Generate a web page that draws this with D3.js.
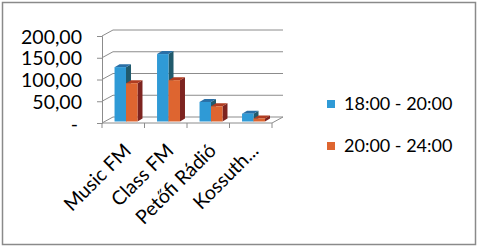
<!DOCTYPE html>
<html lang="hu">
  <head>
    <meta charset="UTF-8" />
    <title>Rádió hallgatottság</title>
    <style>
      body { margin: 0; background: #fff; }
      text { font-family: Lato, "Open Sans", sans-serif; fill: #000; }
    </style>
  </head>
  <body>
    <div class="chart"></div>
    <script src="https://d3js.org/d3.v7.min.js"></script>
    <script>
      // data
      const categories = ['Music FM', 'Class FM', 'Petőfi Rádió', 'Kossuth...'];
      const seriesNames = ['18:00 - 20:00', '20:00 - 24:00'];
      const evening = [125, 155, 45, 18];
      const night = [88, 95, 35, 7];
      const yTicks = [0, 50, 100, 150, 200];
      const yTickLabels = ['-', '50,00', '100,00', '150,00', '200,00'];

      const svgWidth = 478,
        svgHeight = 246;

      // front plane of the plot and the depth offset of the back wall
      const plotLeft = 102, plotRight = 272, plotBottom = 123, plotTop = 36;
      const depthX = 11, depthY = -6;
      // depth offset of a single bar
      const barDX = 5, barDY = -3;

      const colors = [
        { front: '#2f9ad6', top: '#2a6fa6', side: '#215a6c' },
        { front: '#de6530', top: '#b03c21', side: '#7d2420' }
      ];

      const svg = d3.select('.chart')
        .append('svg')
        .attr('width', svgWidth)
        .attr('height', svgHeight);

      // outer frame
      svg.append('rect')
        .attr('x', 2.5)
        .attr('y', 2.5)
        .attr('width', 473)
        .attr('height', 242)
        .attr('fill', 'none')
        .attr('stroke', '#8a8a8a')
        .attr('stroke-width', 1.5);

      const xScale = d3.scaleBand()
        .domain(categories)
        .range([plotLeft, plotRight]);

      const yScale = d3.scaleLinear()
        .domain([0, 200])
        .range([plotBottom, plotTop]);

      const grid = svg.append('g')
        .attr('stroke', '#8c8c8c')
        .attr('stroke-width', 1)
        .attr('fill', 'none');

      // back wall gridlines + side wall diagonals
      yTicks.forEach(t => {
        const y = yScale(t);
        grid.append('path')
          .attr('d', `M${plotLeft},${y}L${plotLeft + depthX},${y + depthY}L${plotRight + depthX},${y + depthY}`);
      });

      // floor front edge and right edge
      grid.append('path')
        .attr('d', `M${plotLeft},${plotBottom}L${plotRight},${plotBottom}L${plotRight + depthX},${plotBottom + depthY}`);

      // y axis (front vertical line with ticks)
      const yAxis = svg.append('g')
        .attr('transform', `translate(${plotLeft},0)`)
        .call(d3.axisLeft(yScale)
          .tickValues(yTicks)
          .tickSize(5)
          .tickPadding(15)
          .tickFormat((d, i) => yTickLabels[i]));
      yAxis.select('.domain').attr('stroke', '#8c8c8c');
      yAxis.selectAll('.tick line').attr('stroke', '#8c8c8c');
      yAxis.selectAll('.tick text')
        .attr('font-size', 19.5)
        .attr('font-family', 'Lato, sans-serif')
        .attr('dy', '0.36em')
        .attr('dx', d => d === 0 ? -4 : 0);

      // x axis ticks on the floor front edge
      const xTicks = categories.map(c => xScale(c)).concat([plotRight]);
      svg.append('g')
        .selectAll('line')
        .data(xTicks)
        .join('line')
        .attr('x1', d => d)
        .attr('x2', d => d)
        .attr('y1', plotBottom)
        .attr('y2', plotBottom + 5)
        .attr('stroke', '#8c8c8c');

      // category labels, rotated
      svg.append('g')
        .selectAll('text')
        .data(categories)
        .join('text')
        .attr('transform', d => `translate(${xScale(d) + xScale.bandwidth() / 2 + 9},${plotBottom + 29}) rotate(-45)`)
        .attr('text-anchor', 'end')
        .attr('font-size', 19.5)
        .text(d => d);

      // bars, pseudo 3d
      const barW = xScale.bandwidth() * 0.27;
      const barOffset = xScale.bandwidth() * 0.295;
      const barBase = plotBottom - 1.5;
      const seriesData = [evening, night];

      categories.forEach((c, ci) => {
        seriesData.forEach((vals, si) => {
          const x = xScale(c) + barOffset + si * barW;
          const y = yScale(vals[ci]) - 1.5;
          const col = colors[si];
          const g = svg.append('g');
          // side
          g.append('path')
            .attr('d', `M${x + barW},${y}L${x + barW + barDX},${y + barDY}L${x + barW + barDX},${barBase + barDY}L${x + barW},${barBase}Z`)
            .attr('fill', col.side);
          // top
          g.append('path')
            .attr('d', `M${x},${y}L${x + barDX},${y + barDY}L${x + barW + barDX},${y + barDY}L${x + barW},${y}Z`)
            .attr('fill', col.top);
          // front
          g.append('rect')
            .attr('x', x)
            .attr('y', y)
            .attr('width', barW)
            .attr('height', barBase - y)
            .attr('fill', col.front);
        });
      });

      // legend
      const legend = svg.append('g')
        .selectAll('g')
        .data(seriesNames)
        .join('g')
        .attr('transform', (d, i) => `translate(327,${100 + i * 42})`);

      legend.append('rect')
        .attr('width', 8)
        .attr('height', 8)
        .attr('fill', (d, i) => colors[i].front);

      legend.append('text')
        .attr('x', 17)
        .attr('y', 10)
        .attr('font-size', 18)
        .text(d => d);
    </script>
  </body>
</html>
